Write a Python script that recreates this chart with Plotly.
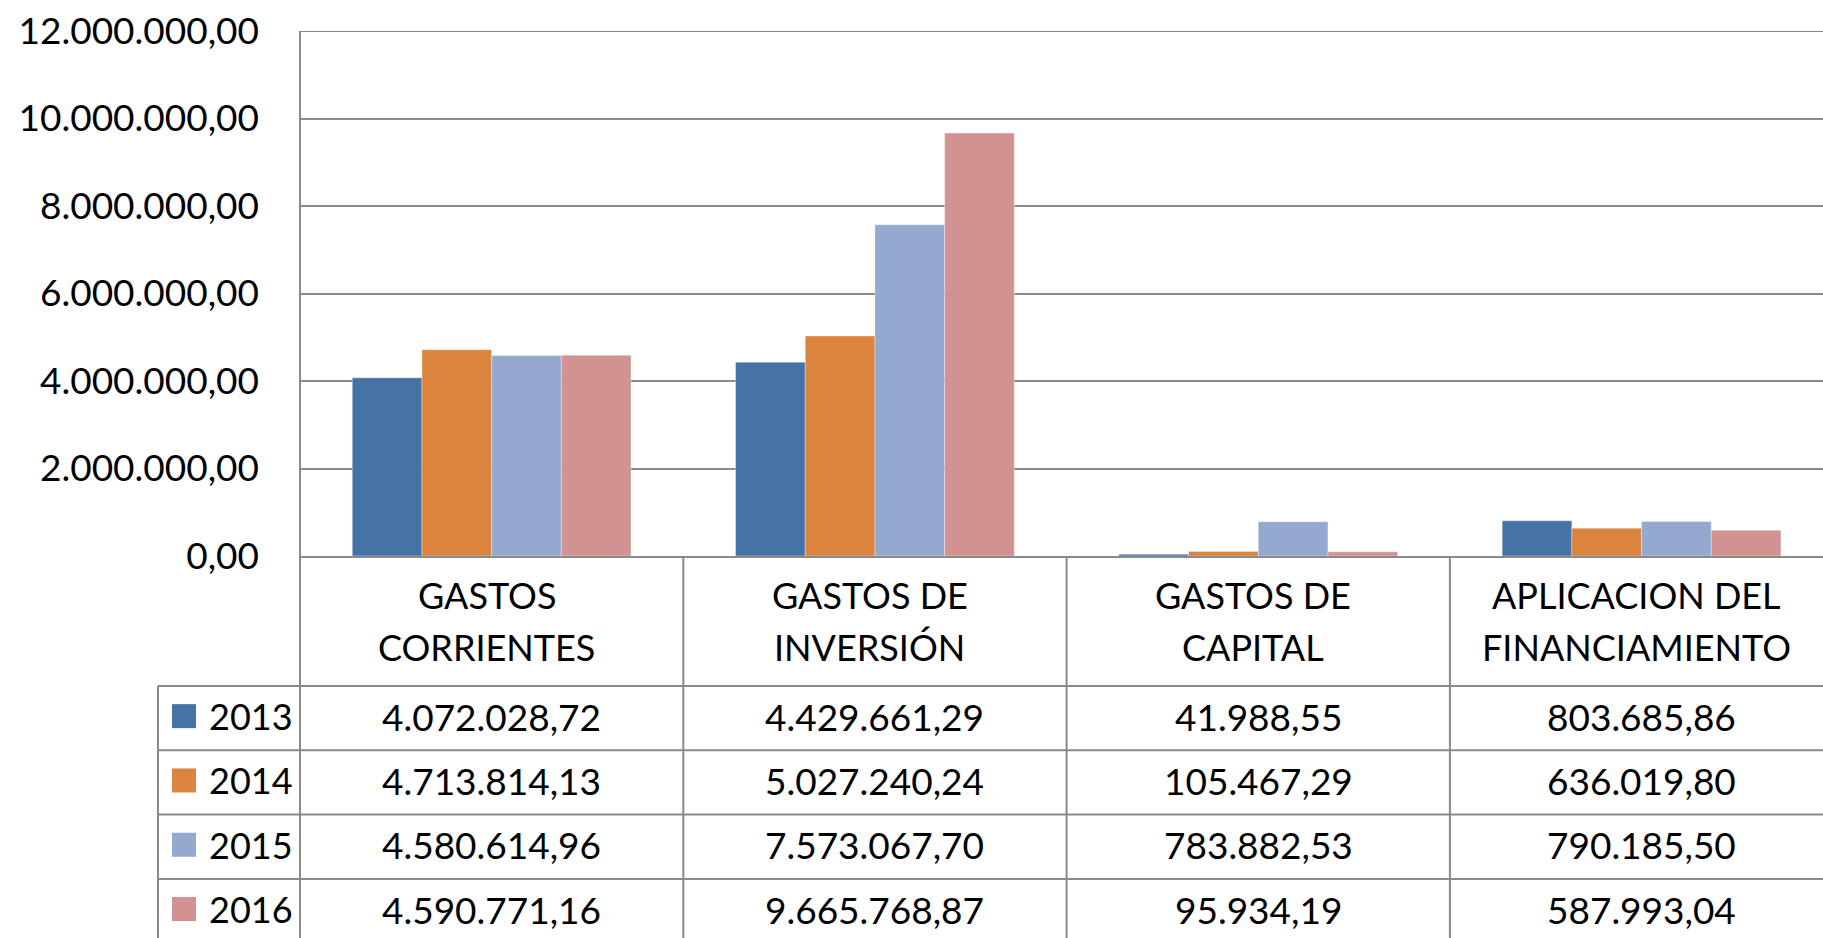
import plotly.graph_objects as go

# ---- data ----
categories = ["GASTOS CORRIENTES", "GASTOS DE INVERSIÓN", "GASTOS DE CAPITAL", "APLICACION DEL FINANCIAMIENTO"]
header_lines = [["GASTOS", "CORRIENTES"], ["GASTOS DE", "INVERSIÓN"], ["GASTOS DE", "CAPITAL"], ["APLICACION DEL", "FINANCIAMIENTO"]]
years = ["2013", "2014", "2015", "2016"]
v2013 = [4072028.72, 4429661.29, 41988.55, 803685.86]
v2014 = [4713814.13, 5027240.24, 105467.29, 636019.80]
v2015 = [4580614.96, 7573067.70, 783882.53, 790185.50]
v2016 = [4590771.16, 9665768.87, 95934.19, 587993.04]
series = [v2013, v2014, v2015, v2016]
colors = ["#4572A7", "#DB843D", "#93A9CF", "#D19392"]
y_ticks = [0, 2000000, 4000000, 6000000, 8000000, 10000000, 12000000]

# ---- geometry (pixels) ----
W, H = 1823, 938
L, T, PB = 300, 31, 556          # plot left, top, bottom (y pixel)
COLW = 383.3
R0 = -0.5
R1 = 3.5 - (L + 4 * COLW - W) / COLW
PW = W - L
PH = PB - T
FONT = "Lato, Carlito, Calibri, sans-serif"
FS = 36
FSN = 37
GRID = "#8a8a8a"


def fmt(v):
    s = f"{v:,.2f}"
    return s.replace(",", "X").replace(".", ",").replace("X", ".")


def px(xp):
    return (xp - L) / PW


def py(yp):
    return (PB - yp) / PH


fig = go.Figure()
for name, vals, col in zip(years, series, colors):
    fig.add_trace(go.Bar(
        x=list(range(len(categories))), y=vals, name=name,
        marker=dict(color=col, line=dict(color="rgba(255,255,255,0.35)", width=1)),
        hovertext=categories,
    ))

shapes = []
annotations = []

header_bottom = 686
row_h = 64.3
legend_left = 158

# top gridline (max of axis)
shapes.append(dict(type="line", xref="paper", yref="y", x0=0, x1=1, y0=y_ticks[-1], y1=y_ticks[-1],
                   line=dict(color=GRID, width=2), layer="below"))
# vertical line at plot left (axis + table)
shapes.append(dict(type="line", xref="paper", yref="paper", x0=0, x1=0, y0=py(T), y1=py(H + 5),
                   line=dict(color=GRID, width=2)))
# column dividers in table
for i in range(1, 4):
    xv = (i - 0.5 - R0) / (R1 - R0)
    shapes.append(dict(type="line", xref="paper", yref="paper", x0=xv, x1=xv, y0=py(PB), y1=py(H + 5),
                       line=dict(color=GRID, width=2)))
# legend column left edge
shapes.append(dict(type="line", xref="paper", yref="paper", x0=px(legend_left), x1=px(legend_left),
                   y0=py(header_bottom), y1=py(H + 5), line=dict(color=GRID, width=2)))
# horizontal lines
for k in range(4):
    yv = header_bottom + k * row_h
    shapes.append(dict(type="line", xref="paper", yref="paper", x0=px(legend_left), x1=1.01,
                       y0=py(yv), y1=py(yv), line=dict(color=GRID, width=2)))

# header texts
for i, lines in enumerate(header_lines):
    xc = (i - R0) / (R1 - R0)
    for j, t in enumerate(lines):
        annotations.append(dict(xref="paper", yref="paper", x=xc, y=py(595 + j * 52), text=t,
                                showarrow=False, xanchor="center", yanchor="middle", xshift=-5,
                                font=dict(family=FONT, size=FS, color="black")))

# data rows + legend keys
for r, (name, vals, col) in enumerate(zip(years, series, colors)):
    yc = header_bottom + r * row_h + row_h / 2 - 2
    shapes.append(dict(type="rect", xref="paper", yref="paper", x0=px(172), x1=px(196),
                       y0=py(yc - 12), y1=py(yc + 12), fillcolor=col, line=dict(width=0)))
    annotations.append(dict(xref="paper", yref="paper", x=px(207), y=py(yc), text=name,
                            showarrow=False, xanchor="left", yanchor="middle",
                            font=dict(family=FONT, size=FS, color="black")))
    for i, v in enumerate(vals):
        xc = (i - R0) / (R1 - R0)
        annotations.append(dict(xref="paper", yref="paper", x=xc, y=py(yc), text=fmt(v),
                                showarrow=False, xanchor="center", yanchor="middle",
                                font=dict(family=FONT, size=FSN, color="black")))

fig.update_layout(
    width=W, height=H,
    margin=dict(l=L, r=0, t=T, b=H - PB, pad=0),
    paper_bgcolor="white", plot_bgcolor="white",
    barmode="group", bargap=1.5 / 5.5, bargroupgap=0,
    showlegend=False,
    separators=",.",
    shapes=shapes, annotations=annotations,
    font=dict(family=FONT, size=FS, color="black"),
)
fig.update_xaxes(range=[R0, R1], showticklabels=False, showgrid=False, zeroline=False,
                 showline=True, linecolor=GRID, linewidth=2, ticks="")
fig.update_yaxes(range=[0, 12000000], tickvals=y_ticks, tickformat=",.2f",
                 showgrid=True, gridcolor=GRID, gridwidth=2, zeroline=False,
                 showline=False, ticks="", ticklabelstandoff=40,
                 tickfont=dict(family=FONT, size=FSN, color="black"))

fig.write_html("out.html", config={"displayModeBar": False},
               post_script="document.body.style.margin='0';document.body.style.overflow='hidden';")
